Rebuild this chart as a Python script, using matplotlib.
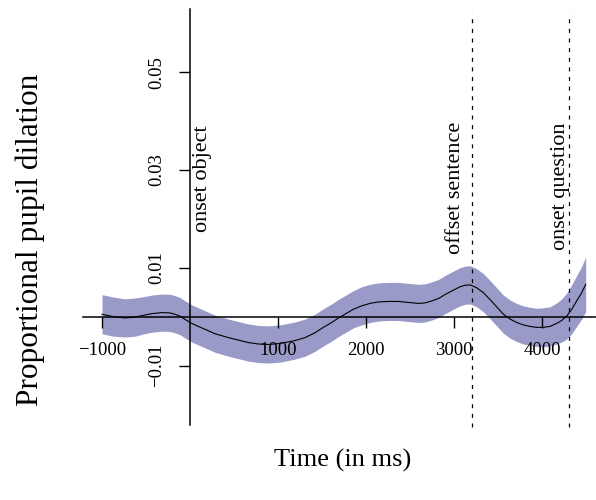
import matplotlib
matplotlib.use('Agg')
import matplotlib.pyplot as plt
import numpy as np

plt.rcParams['font.family'] = ['Liberation Serif', 'DejaVu Serif']

# smoothed pupil dilation over time
time_ms = [-1000, -873, -740, -626, -510, -436, -320, -227, -171, -114,
           -60, 20, 94, 170, 283, 435, 548, 660, 775, 890, 1021, 1191,
           1305, 1418, 1513, 1608, 1683, 1759, 1854, 1948, 2043, 2137,
           2250, 2364, 2477, 2591, 2667, 2743, 2820, 2894, 2989, 3065,
           3121, 3178, 3254, 3330, 3405, 3481, 3557, 3633, 3708, 3784,
           3859, 3935, 4011, 4087, 4162, 4219, 4276, 4333, 4390, 4447,
           4492]
fit = [0.00048, 0.0, -0.00027, -0.0001, 0.00034, 0.0006, 0.00082,
       0.00075, 0.00048, 0.0001, -0.00055, -0.0014, -0.0020, -0.0026,
       -0.0035, -0.0043, -0.0048, -0.0053, -0.0056, -0.0057, -0.0055,
       -0.0049, -0.0043, -0.0033, -0.0022, -0.0012, -0.0003, 0.0005,
       0.0015, 0.0022, 0.0027, 0.0030, 0.0031, 0.0031, 0.0029, 0.0027,
       0.0028, 0.0032, 0.0037, 0.0045, 0.0054, 0.0061, 0.0064, 0.0065,
       0.0059, 0.0049, 0.0035, 0.0020, 0.0005, -0.0005, -0.0012,
       -0.0017, -0.0020, -0.0022, -0.0022, -0.0020, -0.0014, -0.0008,
       0.0001, 0.0015, 0.0032, 0.0049, 0.0066]
ci = [0.0040, 0.0040, 0.0039, 0.0039, 0.0038, 0.0038, 0.0038, 0.0038,
      0.0038, 0.0038, 0.0038, 0.0038, 0.0038, 0.0038, 0.0038, 0.0038,
      0.0038, 0.0038, 0.0038, 0.0038, 0.0038, 0.0038, 0.0038, 0.0038,
      0.0038, 0.0038, 0.0038, 0.0038, 0.0038, 0.0039, 0.0039, 0.0039,
      0.0039, 0.0039, 0.0039, 0.0039, 0.0039, 0.0039, 0.0039, 0.0039,
      0.0039, 0.0039, 0.0039, 0.0039, 0.0039, 0.0039, 0.0039, 0.0039,
      0.0039, 0.0039, 0.0039, 0.0039, 0.0039, 0.0039, 0.0040, 0.0040,
      0.0042, 0.0044, 0.0047, 0.0050, 0.0052, 0.0054, 0.0056]

events = [3200, 4305]
event_labels = ['onset object', 'offset sentence', 'onset question']
label_x = [146, 3019, 4211]
label_y = [0.0283, 0.0264, 0.0267]

xticks = [-1000, 1000, 2000, 3000, 4000]
yticks = [-0.01, 0.01, 0.03, 0.05]
ytick_labels = ['\u22120.01', '0.01', '0.03', '0.05']

fit = np.array(fit)
ci = np.array(ci)

fig = plt.figure(figsize=(5.96, 5.0), dpi=100)
ax = fig.add_axes([0, 0, 1, 1])
ax.set_xlim(-2158.5, 4609)
ax.set_ylim(-0.0375, 0.06474)
ax.patch.set_alpha(0)

ax.fill_between(time_ms, fit - ci, fit + ci, color='#9a9ac9', lw=0)
ax.plot(time_ms, fit, color='black', lw=0.8)

ax.vlines(events, -0.0226, 0.0621, colors='black', lw=0.9,
          linestyles=(0, (3.2, 4.5)))

for lx, ly, lab in zip(label_x, label_y, event_labels):
    ax.text(lx, ly, lab, rotation=90, ha='center', va='center', fontsize=16)

for s in ['top', 'right']:
    ax.spines[s].set_visible(False)
ax.spines['left'].set_position(('data', 0))
ax.spines['bottom'].set_position(('data', 0))
ax.spines['left'].set_bounds(-0.0222, 0.0628)
ax.spines['bottom'].set_bounds(-1220, 4609)
ax.spines['left'].set_linewidth(1.1)
ax.spines['bottom'].set_linewidth(1.1)

ax.set_xticks(xticks)
ax.set_xticklabels([str(t).replace('-', '\u2212') for t in xticks])
ax.set_yticks(yticks)
ax.set_yticklabels(ytick_labels, rotation=90, va='center')
ax.tick_params(axis='both', direction='out', length=8, width=1.0,
               labelsize=13.5, pad=10)

fig.text(30 / 596, 1 - 240 / 500, 'Proportional pupil dilation',
         rotation=90, ha='center', va='center', fontsize=22.5)
fig.text(343 / 596, 1 - 460 / 500, 'Time (in ms)',
         ha='center', va='center', fontsize=19)

fig.savefig('out.png', dpi=100)
